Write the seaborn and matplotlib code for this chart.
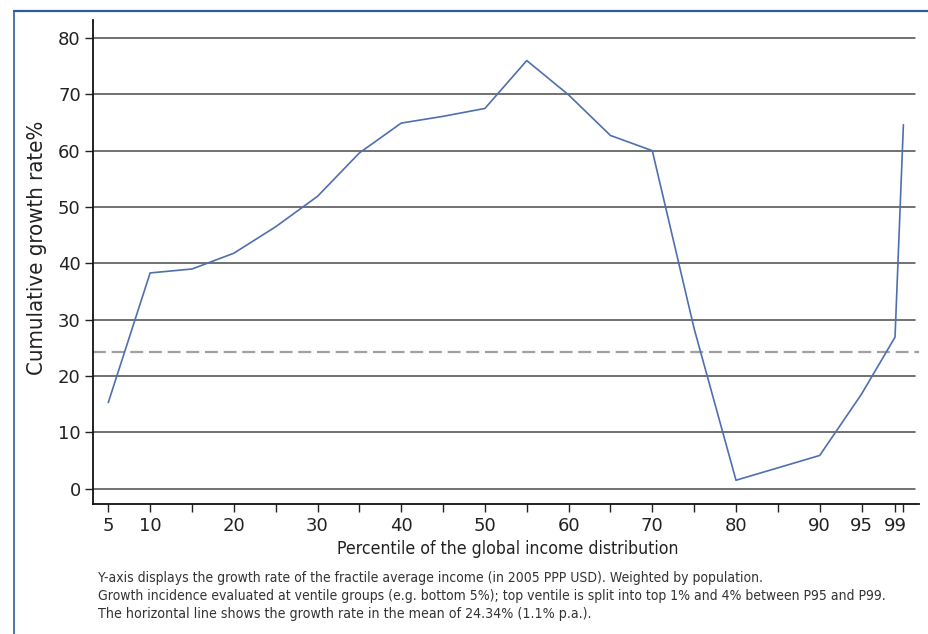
import matplotlib
matplotlib.use("Agg")
import matplotlib.pyplot as plt
import seaborn as sns
import pandas as pd
from matplotlib.lines import Line2D
from matplotlib import font_manager as fm

percentiles = [5, 10, 15, 20, 25, 30, 35, 40, 45, 50, 55, 60, 65, 70, 75, 80, 85, 90, 95, 99, 100]
growth = [15.3, 38.3, 39.0, 41.8, 46.5, 51.9, 59.6, 64.9, 66.1, 67.5, 76.0, 69.9, 62.7, 60.0,
          28.4, 1.5, 3.7, 5.9, 16.8, 26.9, 64.6]
mean_growth = 24.34
xtick_pos = [5, 10, 15, 20, 25, 30, 35, 40, 45, 50, 55, 60, 65, 70, 75, 80, 85, 90, 95, 99, 100]
xtick_labels = ["5", "10", "", "20", "", "30", "", "40", "", "50", "", "60", "", "70", "", "80", "", "90", "95", "99", ""]
yticks = [0, 10, 20, 30, 40, 50, 60, 70, 80]
ylabel = "Cumulative growth rate%"
xlabel = "Percentile of the global income distribution"
notes = ["Y-axis displays the growth rate of the fractile average income (in 2005 PPP USD). Weighted by population.",
         "Growth incidence evaluated at ventile groups (e.g. bottom 5%); top ventile is split into top 1% and 4% between P95 and P99.",
         "The horizontal line shows the growth rate in the mean of 24.34% (1.1% p.a.)."]

sns.set_style("white")

# look for a condensed / narrow sans if one is installed
narrow_fp = None
for f in fm.fontManager.ttflist:
    nm = f.name.lower()
    st = str(f.stretch).lower()
    if ("narrow" in nm or "condensed" in nm or "condensed" in st) and f.style == "normal" \
            and str(f.weight) in ("400", "normal", "regular", "book"):
        if "sans" in nm or "roboto" in nm or "liberation" in nm or "dejavu" in nm:
            narrow_fp = f.fname
            break


def make_fp(size):
    if narrow_fp:
        return fm.FontProperties(fname=narrow_fp, size=size)
    return fm.FontProperties(family=["Roboto", "DejaVu Sans"], size=size)


W, H = 929, 634
fig = plt.figure(figsize=(W / 100, H / 100), dpi=100)
ax = fig.add_axes([93.3 / W, 1 - 504.3 / H, (919.3 - 93.3) / W, (504.3 - 20) / H])

df = pd.DataFrame({"p": percentiles, "g": growth})

for yv in yticks:
    ax.axhline(yv, xmin=0, xmax=0.995, color="#4a4a4a", lw=1.1, zorder=1)
ax.axhline(mean_growth, xmin=0, xmax=1, color="#a0a0a0", lw=1.6, ls=(0, (5.8, 2.6)), zorder=2)

sns.lineplot(data=df, x="p", y="g", ax=ax, color="#4f6fae", lw=1.2, zorder=3)

ax.set_xlim(3.21, 101.9)
ax.set_ylim(-2.77, 83.2)
ax.set_xticks(xtick_pos)
ax.set_xticklabels(xtick_labels)
ax.set_yticks(yticks)
ax.set_yticklabels([str(v) for v in yticks])

for s in ["top", "right"]:
    ax.spines[s].set_visible(False)
for s in ["left", "bottom"]:
    ax.spines[s].set_color("#111111")
    ax.spines[s].set_linewidth(1.3)

ax.tick_params(axis="both", which="both", direction="out", length=6, width=1.0,
               color="#222222", labelsize=13, labelcolor="#222222", left=True, bottom=True)
ax.tick_params(axis="y", pad=3)
ax.tick_params(axis="x", pad=3)
ax.set_xlabel("")
ax.set_ylabel("")

renderer = fig.canvas.get_renderer()


def fitted_text(x, y, s, target_px, color, rotation=0, ha="center"):
    t = fig.text(x / W, 1 - y / H, s, rotation=rotation, ha=ha, va="center",
                 fontproperties=make_fp(12), color=color)
    bb = t.get_window_extent(renderer)
    cur = bb.height if rotation == 90 else bb.width
    t.set_fontproperties(make_fp(12 * target_px / cur))
    return t


fitted_text(37, 248, ylabel, 255, "#222222", rotation=90)
fitted_text(508, 549, xlabel, 341, "#222222")
note_widths = [666, 789, 490]
note_ys = [578, 596, 614]
for line, wpx, yp in zip(notes, note_widths, note_ys):
    fitted_text(98, yp, line, wpx, "#333333", ha="left")

# frame
fig.add_artist(Line2D([14 / W, 1.0], [1 - 11 / H, 1 - 11 / H], transform=fig.transFigure,
                      color="#2c5c9a", lw=1.6))
fig.add_artist(Line2D([14 / W, 14 / W], [1 - 11 / H, 0.0], transform=fig.transFigure,
                      color="#2c5c9a", lw=1.2))

fig.savefig("out.png", dpi=100)
